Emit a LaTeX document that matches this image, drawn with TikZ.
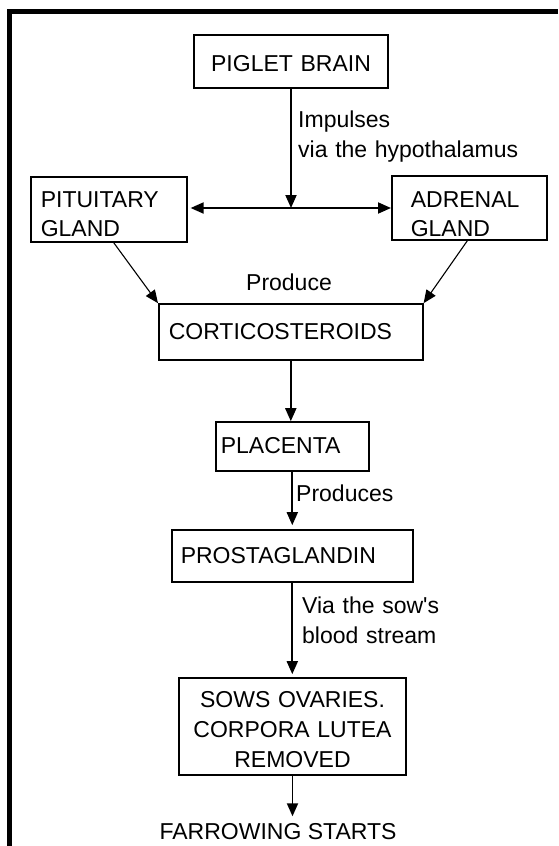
\documentclass[tikz,border=0pt]{standalone}
\usepackage{fontspec}
\setmainfont{Liberation Sans}
\usetikzlibrary{arrows.meta}
\begin{document}
\begin{tikzpicture}[x=1pt,y=-1pt,
  every node/.style={font=\fontsize{23}{29}\selectfont},
  box/.style={draw, line width=1.6pt, inner ysep=0pt},
  lbl/.style={inner sep=0pt, align=left},
  conn/.style={line width=1.9pt, -{Triangle[length=13pt,width=11pt]}},
  thinconn/.style={line width=1.1pt, -{Triangle[length=13pt,width=11pt]}}]
\useasboundingbox (0,0) rectangle (558,846);
\fill[white] (0,0) rectangle (558,846);
\draw[line width=4.5pt] (9.5,846) -- (9.5,11.5) -- (558,11.5);

\node[box, anchor=base, align=center, inner xsep=5pt, text width=184pt, text height=36pt, text depth=17pt] (brain) at (291,71) {PIGLET BRAIN};
\node[box, anchor=base west, align=left, inner xsep=10pt, text width=136pt, text height=30pt, text depth=35pt] (pit) at (30,207) {PITUITARY\\GLAND};
\node[box, anchor=base west, align=left, inner xsep=19pt, text width=117pt, text height=31pt, text depth=33pt] (adr) at (391,207) {ADRENAL\\GLAND};
\node[box, anchor=base west, align=left, inner xsep=10pt, text width=244pt, text height=35pt, text depth=21pt] (cort) at (158,339) {CORTICOSTEROIDS};
\node[box, anchor=base west, align=left, inner xsep=5pt, text width=143pt, text height=31pt, text depth=18pt] (plac) at (215,453) {PLACENTA};
\node[box, anchor=base west, align=left, inner xsep=9pt, text width=223pt, text height=33pt, text depth=19pt] (pros) at (171,563) {PROSTAGLANDIN};
\node[box, anchor=base, align=center, inner xsep=5pt, text width=217pt, text height=29pt, text depth=68pt, font=\fontsize{23}{30}\selectfont] (sows) at (292.5,707) {SOWS OVARIES.\\CORPORA LUTEA\\REMOVED};
\node[lbl, anchor=base, text height=16.5pt] (farrow) at (278,839) {FARROWING STARTS};

\node[lbl, anchor=base west, text width=240pt, font=\fontsize{23}{30}\selectfont] (imp) at (298,127) {Impulses\\via the hypothalamus};
\node[lbl, anchor=base, text width=100pt, align=center] (prod) at (289,290) {Produce};
\node[lbl, anchor=base west, text width=120pt] (prods) at (296,501) {Produces};
\node[lbl, anchor=base west, text width=170pt, font=\fontsize{23}{30}\selectfont] (via) at (302,613) {Via the sow\textquotesingle s\\blood stream};

\coordinate (j) at (291,208);
\draw[conn] (brain.south) -- (j);
\draw[conn, shorten >=3pt] (j) -- (j -| pit.east);
\draw[conn] (j) -- (j -| adr.west);
\draw[thinconn] ([xshift=5pt]pit.south) -- (cort.north west);
\draw[thinconn] ([xshift=-2pt]adr.south) -- (cort.north east);
\draw[conn] (cort.south) -- (cort.south |- plac.north);
\draw[conn, shorten >=4pt] (plac.south) -- (plac.south |- pros.north);
\draw[conn, shorten >=3pt] (pros.south) -- (pros.south |- sows.north);
\draw[conn, shorten >=6pt] (sows.south) -- (sows.south |- farrow.north);
\end{tikzpicture}
\end{document}
